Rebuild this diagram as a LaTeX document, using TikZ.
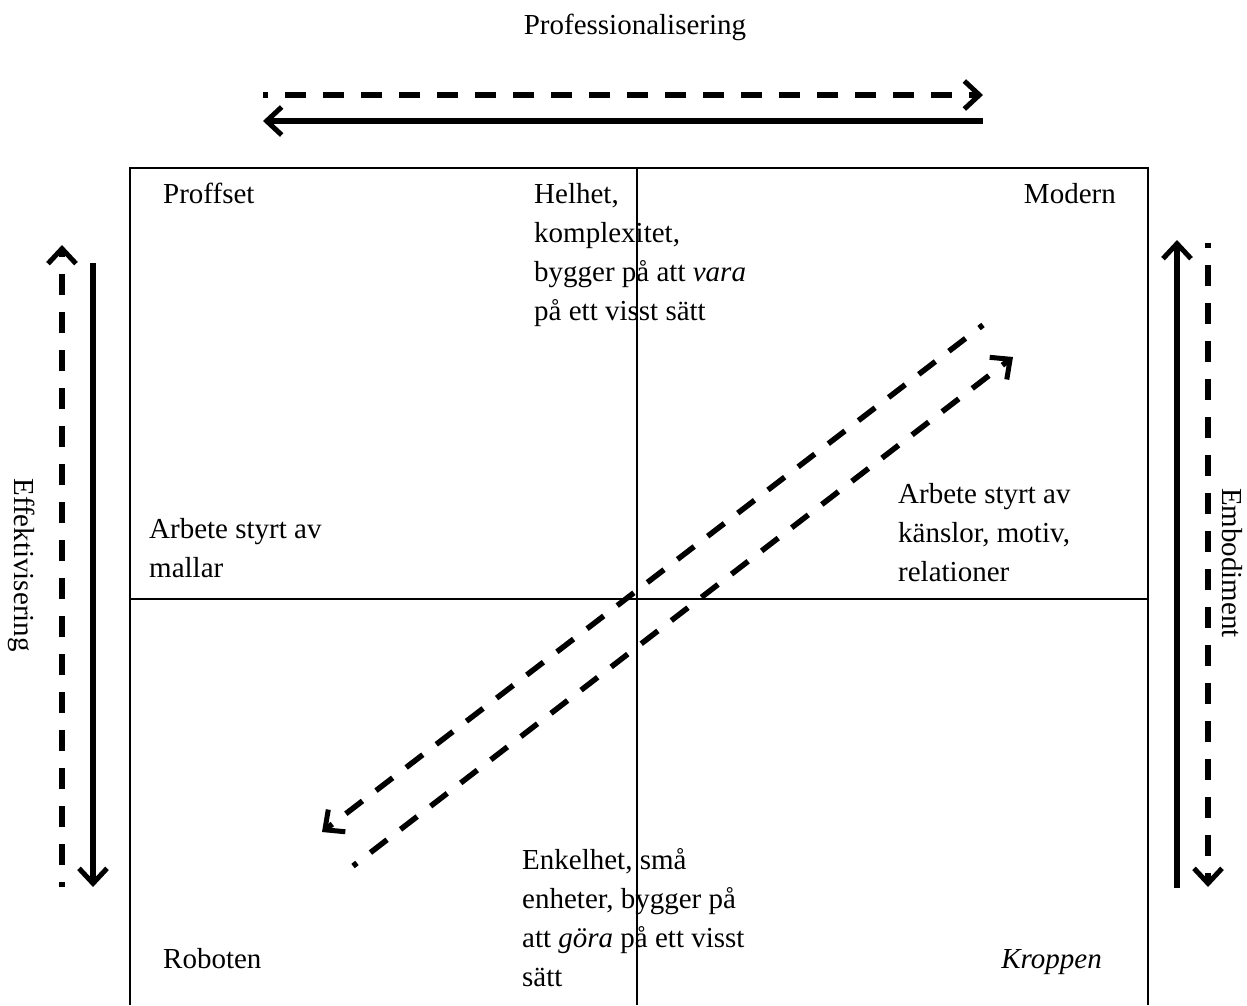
\documentclass[tikz,border=0pt]{standalone}
\usepackage{fontspec}
\setmainfont{Liberation Serif}
\usetikzlibrary{arrows.meta}
\begin{document}
\begin{tikzpicture}[x=1pt,y=-1pt,
  lbl/.style={inner sep=0pt,font=\fontsize{29}{39}\selectfont},
  mlbl/.style={lbl,align=left,anchor=north west},
  frame/.style={line width=2pt},
  arr/.style={line width=5.5pt,-{Straight Barb[length=15pt,width=28pt,line width=5pt]}},
  dsh/.style={arr,dash pattern=on 21pt off 17pt,dash phase=16pt}]
\useasboundingbox (0,0) rectangle (1247,1005);
% frame
\draw[frame] (130,1005) -- (130,168) -- (1148,168) -- (1148,1005);
\coordinate (hl) at (130,599); \coordinate (hr) at (1148,599);
\coordinate (vt) at (637,168); \coordinate (vb) at (637,1005);
\draw[frame] (hl) -- (hr);
\draw[frame] (vt) -- (vb);
% labels
\node[lbl,anchor=base] (prof) at (635,34) {Professionalisering};
\node[lbl,anchor=base west] (proffset) at (163,203) {Proffset};
\node[lbl,anchor=base east] (modern) at (1116,203) {Modern};
\node[lbl,anchor=base west] (roboten) at (163,968) {Roboten};
\node[lbl,anchor=base east] (kroppen) at (1102,968) {\textit{Kroppen}};
\node[mlbl] (helhet) at (534,183) {Helhet,\\komplexitet,\\bygger på att \textit{vara}\\på ett visst sätt};
\node[mlbl] (mallar) at (149,518) {Arbete styrt av\\mallar};
\node[mlbl] (kanslor) at (898,483) {Arbete styrt av\\känslor, motiv,\\relationer};
\node[mlbl] (enkel) at (522,848) {Enkelhet, små\\enheter, bygger på\\att \textit{göra} på ett visst\\sätt};
\node[lbl,rotate=-90] (effekt) at (22,565) {Effektivisering};
\node[lbl,rotate=-90] (embod) at (1232,563) {Embodiment};
% arrow endpoints
\coordinate (t1a) at (263,95); \coordinate (t1b) at (983,95);
\coordinate (t2a) at (983,121); \coordinate (t2b) at (263,121);
\coordinate (l1a) at (62,887); \coordinate (l1b) at (62,245);
\coordinate (l2a) at (93,263); \coordinate (l2b) at (93,887);
\coordinate (r1a) at (1177,888); \coordinate (r1b) at (1177,240);
\coordinate (r2a) at (1208,243); \coordinate (r2b) at (1208,887);
\coordinate (d1a) at (983,325); \coordinate (d1b) at (322,832);
\coordinate (d2a) at (353,866); \coordinate (d2b) at (1013,357);
% arrows
\draw[dsh] (t1a) -- (t1b);
\draw[arr] (t2a) -- (t2b);
\draw[dsh] (l1a) -- (l1b);
\draw[arr] (l2a) -- (l2b);
\draw[arr] (r1a) -- (r1b);
\draw[dsh] (r2a) -- (r2b);
\draw[dsh] (d1a) -- (d1b);
\draw[dsh] (d2a) -- (d2b);
\end{tikzpicture}
\end{document}
